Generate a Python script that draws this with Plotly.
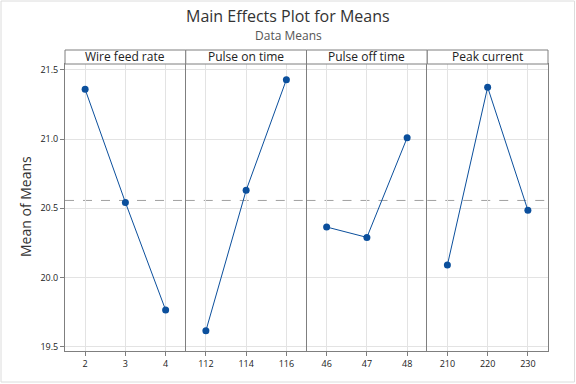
import plotly.graph_objects as go

factors = ["Wire feed rate", "Pulse on time", "Pulse off time", "Peak current"]
levels = [[2, 3, 4], [112, 114, 116], [46, 47, 48], [210, 220, 230]]
means = [[21.36, 20.543, 19.765], [19.615, 20.63, 21.43], [20.365, 20.29, 21.01], [20.09, 21.375, 20.486]]
tick_labels = [["2", "3", "4"], ["112", "114", "116"], ["46", "47", "48"], ["210", "220", "230"]]
x_ranges = [[1.5, 4.5], [111, 117], [45.5, 48.5], [205, 235]]
grand_mean = 20.557
y_ticks = [19.5, 20.0, 20.5, 21.0, 21.5]

W, H = 576, 384
L, R, T, B = 65, 28, 64, 33
pw = W - L - R
ph = H - T - B

font_family = "Open Sans, Noto Sans, DejaVu Sans, sans-serif"
blue = "#0b4f9c"
frame = "#7f7f7f"
grid = "#e3e3e3"

fig = go.Figure()
n = len(factors)
shapes = []
annotations = []
for i in range(n):
    suf = "" if i == 0 else str(i + 1)
    fig.add_trace(go.Scatter(
        x=levels[i], y=means[i], mode="lines+markers",
        line=dict(color=blue, width=1),
        marker=dict(color=blue, size=7),
        xaxis="x" + suf, yaxis="y" + suf, showlegend=False,
        hoverinfo="x+y"))
    d0, d1 = i / n, (i + 1) / n
    fig.layout["xaxis" + suf] = dict(
        domain=[d0, d1], range=x_ranges[i], tickmode="array",
        tickvals=levels[i], ticktext=tick_labels[i],
        showgrid=True, gridcolor=grid, gridwidth=1, zeroline=False,
        showline=True, linecolor=frame, linewidth=1, mirror=True,
        ticks="outside", ticklen=4, tickcolor=frame,
        tickfont=dict(size=9, color="#222", family=font_family),
        anchor="y" + suf, fixedrange=True)
    fig.layout["yaxis" + suf] = dict(
        range=[19.469, 21.543], tickmode="array", tickvals=y_ticks,
        ticktext=["%.1f" % v for v in y_ticks],
        showticklabels=(i == 0),
        ticks="outside" if i == 0 else "", ticklen=4, tickcolor=frame,
        showgrid=True, gridcolor=grid, gridwidth=1, zeroline=False,
        showline=True, linecolor=frame, linewidth=1, mirror=(i == n - 1),
        tickfont=dict(size=9, color="#222", family=font_family),
        anchor="x" + suf, fixedrange=True,
        **({"matches": "y"} if i > 0 else {}))
    shapes.append(dict(type="line", xref="x" + suf + " domain", yref="y" + suf,
                       x0=0, x1=1, y0=grand_mean, y1=grand_mean,
                       line=dict(color="#a0a0a0", width=1, dash="dash"),
                       layer="below"))
    shapes.append(dict(type="rect", xref="paper", yref="paper",
                       x0=d0, x1=d1, y0=1, y1=1 + 14 / ph,
                       line=dict(color=frame, width=1), fillcolor="white"))
    annotations.append(dict(text=factors[i], xref="paper", yref="paper",
                            x=(d0 + d1) / 2, y=1 + 7 / ph, xanchor="center",
                            yanchor="middle", showarrow=False,
                            font=dict(size=12, color="#222", family=font_family)))

# outer light frame around the image
shapes.append(dict(type="rect", xref="paper", yref="paper",
                   x0=(1 - L) / pw, x1=(W - 1.5 - L) / pw,
                   y0=(H - B - (H - 2)) / ph, y1=(H - B - 1) / ph,
                   line=dict(color="#dcdcdc", width=1), fillcolor="rgba(0,0,0,0)",
                   layer="below"))

annotations.append(dict(text="Main Effects Plot for Means", xref="paper", yref="paper",
                        x=(288 - L) / pw, y=(H - B - 16.5) / ph, xanchor="center",
                        yanchor="middle", showarrow=False,
                        font=dict(size=16, color="#333", family=font_family)))
annotations.append(dict(text="Data Means", xref="paper", yref="paper",
                        x=(288 - L) / pw, y=(H - B - 35.5) / ph, xanchor="center",
                        yanchor="middle", showarrow=False,
                        font=dict(size=12, color="#555", family=font_family)))
annotations.append(dict(text="Mean of Means", xref="paper", yref="paper",
                        x=(25 - L) / pw, y=(H - B - 207) / ph, xanchor="center",
                        yanchor="middle", showarrow=False, textangle=-90,
                        font=dict(size=14, color="#333", family=font_family)))

fig.update_layout(
    width=W, height=H, margin=dict(l=L, r=R, t=T, b=B),
    paper_bgcolor="white", plot_bgcolor="white",
    shapes=shapes, annotations=annotations, showlegend=False,
    font=dict(family=font_family))

fig.write_html("out.html", config={"displayModeBar": False},
               post_script="document.body.style.margin='0px';document.body.style.padding='0px';")
